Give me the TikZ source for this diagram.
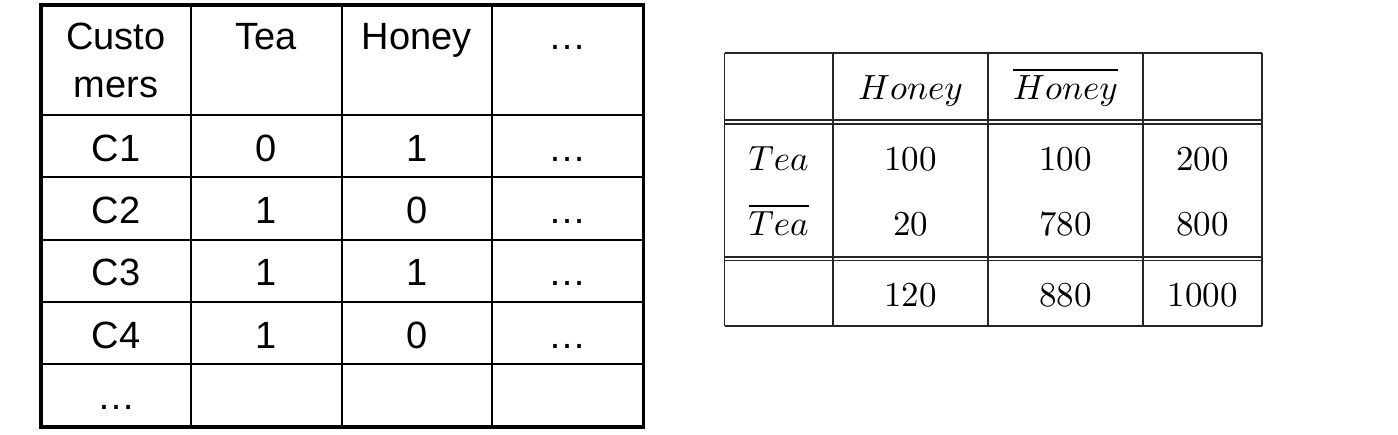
\RequirePackage{fix-cm}
\documentclass[tikz,border=0pt]{standalone}
\usepackage{fontspec}
\usepackage{graphicx}
\newfontfamily\arialf{Liberation Sans}
\newcommand{\rbig}[1]{\scalebox{3.5}{#1}}
\begin{document}
\begin{tikzpicture}[x=1pt,y=-1pt,
  lt/.style={font=\arialf\fontsize{38}{46}\selectfont, anchor=base, inner sep=0pt},
  rt/.style={font=\fontsize{10}{12}\selectfont, anchor=base, inner sep=0pt},
  innerline/.style={line width=2pt, black},
  outerline/.style={line width=3.6pt, black},
  rline/.style={line width=1.8pt, black!85}]
\useasboundingbox (0,0) rectangle (1398,434);
\fill[white] (0,0) rectangle (1398,434);
% ---------- left table ----------
\foreach \x in {191,341.5,492.3} \draw[innerline] (\x,4.7) -- (\x,426.7);
\foreach \y in {115,177.3,239.7,302,364.3} \draw[innerline] (41,\y) -- (643.3,\y);
\draw[outerline] (41,4.7) rectangle (643.3,426.7);
% header
\node[lt] (h1a) at (116,49) {Custo};
\node[lt] (h1b) at (116,97) {mers};
\node[lt] (h2) at (266.3,49) {Tea};
\node[lt] (h3) at (416.9,49) {Honey};
\node[lt] (h4) at (567.8,49) {…};
% rows
\node[lt] (c1) at (116,161) {C1};
\node[lt] (c1t) at (266.3,161) {0};
\node[lt] (c1h) at (416.9,161) {1};
\node[lt] (c1d) at (567.8,161) {…};
\node[lt] (c2) at (116,223.3) {C2};
\node[lt] (c2t) at (266.3,223.3) {1};
\node[lt] (c2h) at (416.9,223.3) {0};
\node[lt] (c2d) at (567.8,223.3) {…};
\node[lt] (c3) at (116,285.7) {C3};
\node[lt] (c3t) at (266.3,285.7) {1};
\node[lt] (c3h) at (416.9,285.7) {1};
\node[lt] (c3d) at (567.8,285.7) {…};
\node[lt] (c4) at (116,348) {C4};
\node[lt] (c4t) at (266.3,348) {1};
\node[lt] (c4h) at (416.9,348) {0};
\node[lt] (c4d) at (567.8,348) {…};
\node[lt] (c5) at (116,409) {…};
% ---------- right table ----------
\foreach \y in {53.3,120,123.8,256.7,260.5,326} \draw[rline] (724.5,\y) -- (1262,\y);
\foreach \x in {724.5,833,988,1143,1262} \draw[rline] (\x,53.3) -- (\x,326);
\node[rt] (rh2) at (910.5,99) {\rbig{$Honey$}};
\node[rt] (rh3) at (1065.5,99) {\rbig{$\overline{Honey}$}};
\node[rt] (ra1) at (778.7,170) {\rbig{$Tea$}};
\node[rt] (ra2) at (910.5,170) {\rbig{100}};
\node[rt] (ra3) at (1065.5,170) {\rbig{100}};
\node[rt] (ra4) at (1202.5,170) {\rbig{200}};
\node[rt] (rb1) at (778.7,235) {\rbig{$\overline{Tea}$}};
\node[rt] (rb2) at (910.5,235) {\rbig{20}};
\node[rt] (rb3) at (1065.5,235) {\rbig{780}};
\node[rt] (rb4) at (1202.5,235) {\rbig{800}};
\node[rt] (rc2) at (910.5,306) {\rbig{120}};
\node[rt] (rc3) at (1065.5,306) {\rbig{880}};
\node[rt] (rc4) at (1202.5,306) {\rbig{1000}};
\end{tikzpicture}
\end{document}
